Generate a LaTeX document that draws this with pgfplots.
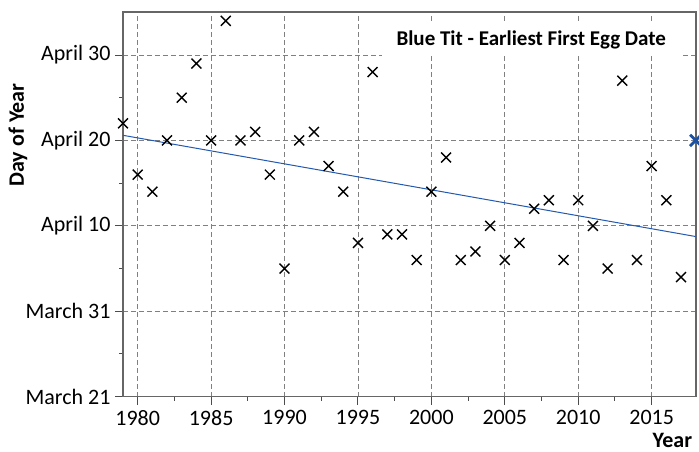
\documentclass[border=0pt]{standalone}
\usepackage{fontspec}
\setmainfont{Carlito}
\usepackage{pgfplots}
\pgfplotsset{compat=1.18}
\definecolor{trendblue}{RGB}{35,90,175}
\definecolor{markblue}{RGB}{30,80,160}
\begin{document}
\begin{tikzpicture}[x=1pt,y=1pt]
\begin{axis}[
  at={(0,0)}, anchor=south west,
  scale only axis, width=572.7pt, height=384.4pt,
  xmin=1979, xmax=2018, ymin=80, ymax=125,
  xtick={1980,1985,...,2015}, minor x tick num=1,
  ytick={80,90,...,120},
  yticklabels={March 21,March 31,April 10,April 20,April 30},
  minor y tick num=1,
  tick pos=left, tick align=outside,
  major tick length=8pt, minor tick length=4pt,
  grid=major,
  major grid style={draw=black!50, line width=0.8pt, dash pattern=on 5pt off 3pt},
  axis line style={draw=black!60, line width=1.6pt},
  tick style={draw=black!70, line width=1pt},
  font=\fontsize{22}{25}\selectfont,
  /pgf/number format/assume math mode=true,
  /pgf/number format/1000 sep={},
  xticklabel style={yshift=-2pt},
  yticklabel style={xshift=-1pt},
  ylabel={\bfseries Day of Year},
  ylabel style={at={(axis description cs:-0.1833,0.681)}, anchor=center},
  xlabel={\bfseries Year},
  xlabel style={at={(axis description cs:1,0)}, anchor=north east, yshift=-33pt, xshift=0pt},
]
\addplot[only marks, mark=x, mark size=7pt, mark options={line width=1.4pt, draw=black}] coordinates {
(1979,112) (1980,106) (1981,104) (1982,110) (1983,115) (1984,119) (1985,110)
(1986,124) (1987,110) (1988,111) (1989,106) (1990,95) (1991,110) (1992,111)
(1993,107) (1994,104) (1995,98) (1996,118) (1997,99) (1998,99) (1999,96)
(2000,104) (2001,108) (2002,96) (2003,97) (2004,100) (2005,96) (2006,98)
(2007,102) (2008,103) (2009,96) (2010,103) (2011,100) (2012,95) (2013,117)
(2014,96) (2015,107) (2016,103) (2017,94)
};
\addplot[trendblue, line width=1pt, no marks] coordinates {(1979,110.6) (2018,98.75)};
\addplot[only marks, mark=x, mark size=8pt, mark options={line width=2.8pt, draw=markblue}] coordinates {(2018,110)};
\node[fill=white, inner sep=0pt, minimum width=298pt, minimum height=32pt,
  font=\bfseries\fontsize{21}{24}\selectfont] at (axis cs:2006.8,121.8) {Blue Tit - Earliest First Egg Date};
\end{axis}
\pgfresetboundingbox
\path[use as bounding box] (-123,-55.3) rectangle (576,396.7);
\end{tikzpicture}
\end{document}
